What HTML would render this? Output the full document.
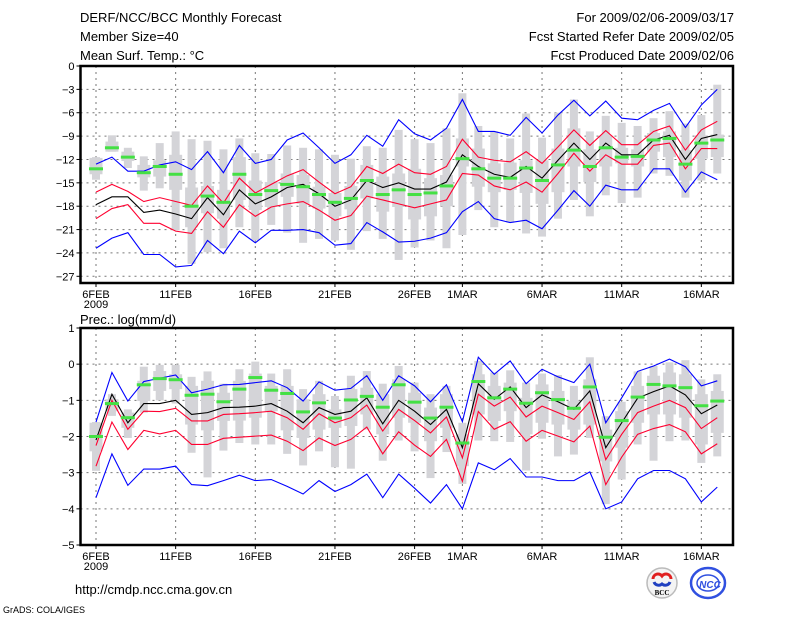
<!DOCTYPE html>
<html><head><meta charset="utf-8"><style>
html,body{margin:0;padding:0;background:#fff;}
svg{display:block;font-family:"Liberation Sans",sans-serif;}
</style></head><body>
<svg id="chart" width="800" height="618" viewBox="0 0 800 618">
<rect x="0" y="0" width="800" height="618" fill="#fff"/>
<text x="80" y="22" font-size="13">DERF/NCC/BCC Monthly Forecast</text>
<text x="80" y="41" font-size="13">Member Size=40</text>
<text x="80" y="60" font-size="13">Mean Surf. Temp.: °C</text>
<text x="734" y="22" font-size="13" text-anchor="end">For 2009/02/06-2009/03/17</text>
<text x="734" y="41" font-size="13" text-anchor="end">Fcst Started Refer Date 2009/02/05</text>
<text x="734" y="60" font-size="13" text-anchor="end">Fcst Produced Date 2009/02/06</text>
<text x="80" y="324" font-size="13">Prec.: log(mm/d)</text>
<text x="75" y="594" font-size="13">http://cmdp.ncc.cma.gov.cn</text>
<text x="3" y="613" font-size="9">GrADS: COLA/IGES</text>
<g>
<circle cx="662" cy="583" r="15" fill="#f4f4f4" stroke="#bbb" stroke-width="1.5"/>
<path d="M653 579 a5 5 0 0 1 9 -3 a5 5 0 0 1 9 3" fill="none" stroke="#e02020" stroke-width="3"/>
<path d="M654 582 a5 5 0 0 0 8 2 a5 5 0 0 0 8 -2" fill="none" stroke="#2040c0" stroke-width="3"/>
<text x="662" y="595" font-size="7" font-weight="bold" text-anchor="middle" font-family="Liberation Serif,serif">BCC</text>
</g>
<g>
<ellipse cx="708" cy="583" rx="17" ry="15" fill="none" stroke="#3050e0" stroke-width="2.5"/>
<ellipse cx="708" cy="583" rx="11" ry="8" fill="none" stroke="#3050e0" stroke-width="1.5"/>
<text x="710" y="588" font-size="10" font-style="italic" font-weight="bold" fill="#3050e0" text-anchor="middle">NCC</text>
</g>
<g id="p1"></g><g id="p2"></g>
</svg>
<script>
// ===== Top panel: temperature =====
const tBlueHi=[-12.6,-11.7,-13.5,-13.5,-12.7,-12.3,-13.3,-11.0,-13.7,-10.2,-12.5,-12.0,-9.5,-8.6,-10.5,-12.5,-11.4,-8.9,-10.3,-6.9,-8.7,-9.5,-8.0,-4.3,-8.4,-8.4,-8.9,-6.6,-8.6,-6.3,-4.4,-6.4,-4.5,-6.7,-6.9,-5.7,-4.8,-7.9,-5.0,-3.0];
const tRedHi=[-16.2,-15.2,-16.1,-17.4,-16.9,-17.4,-17.9,-15.4,-17.6,-14.4,-16.3,-15.2,-14.1,-13.3,-14.9,-16.4,-15.5,-12.9,-13.8,-12.6,-13.7,-13.9,-12.9,-9.4,-11.7,-12.1,-12.3,-11.0,-12.5,-10.4,-8.2,-10.2,-8.3,-10.1,-10.1,-8.4,-7.7,-10.8,-8.2,-7.1];
const tMean=[-17.8,-16.8,-16.8,-18.8,-18.5,-19.0,-19.6,-16.9,-19.1,-15.9,-17.7,-16.8,-15.6,-15.2,-16.4,-18.0,-17.2,-14.7,-15.6,-15.0,-15.8,-15.8,-14.9,-11.4,-12.9,-13.9,-14.3,-12.9,-14.4,-12.1,-9.9,-12.0,-9.9,-11.4,-11.4,-9.5,-8.9,-12.0,-9.3,-8.8];
const tRedLo=[-19.6,-18.3,-17.8,-20.2,-20.2,-21.2,-21.5,-18.7,-20.7,-17.8,-19.3,-18.1,-17.7,-17.4,-18.5,-19.8,-19.2,-16.7,-17.2,-17.7,-18.2,-17.7,-17.2,-13.8,-14.0,-15.4,-15.9,-14.9,-16.2,-13.8,-11.2,-13.5,-11.4,-12.6,-12.6,-10.2,-9.9,-13.2,-10.6,-10.6];
const tBlueLo=[-23.4,-22.1,-21.4,-24.2,-24.2,-25.8,-25.6,-22.4,-24.1,-21.2,-22.7,-21.1,-21.1,-21.0,-21.4,-23.0,-22.8,-20.1,-21.3,-22.6,-22.5,-22.1,-21.4,-18.7,-17.4,-19.6,-20.1,-19.8,-20.9,-18.5,-16.0,-18.0,-15.3,-15.9,-15.9,-13.2,-13.2,-16.2,-13.6,-14.6];
const tObs=[-13.2,-10.5,-11.7,-13.7,-12.9,-13.9,-18.0,-16.7,-17.5,-13.9,-16.5,-16.0,-15.2,-15.5,-16.5,-17.5,-17.0,-14.7,-16.5,-15.9,-16.5,-16.3,-15.4,-11.9,-13.2,-14.4,-14.4,-13.1,-14.7,-12.7,-10.8,-12.9,-10.5,-11.7,-11.6,-9.5,-9.3,-12.6,-9.9,-9.5];
const tMax=[-11.7,-8.9,-10.5,-11.6,-9.9,-8.4,-9.4,-9.6,-10.7,-9.3,-11.2,-11.3,-10.2,-10.5,-10.7,-11.4,-11.9,-10.3,-10.5,-8.2,-9.4,-9.9,-8.0,-3.5,-7.7,-8.4,-9.3,-6.1,-9.2,-6.0,-4.3,-8.4,-6.4,-7.3,-7.7,-6.7,-5.8,-7.4,-6.3,-2.4];
const tMin=[-14.6,-11.0,-13.1,-16.0,-15.7,-21.1,-25.4,-23.9,-23.4,-20.7,-22.4,-20.4,-21.4,-22.7,-22.2,-22.4,-23.6,-21.2,-22.2,-24.9,-23.3,-22.4,-23.4,-21.7,-18.5,-20.7,-20.1,-21.5,-21.9,-19.6,-17.2,-19.3,-16.6,-17.6,-16.9,-13.8,-14.1,-16.9,-14.7,-13.8];
const tQ3=[-11.8,-9.7,-11.0,-12.7,-12.1,-11.4,-15.6,-15.4,-15.9,-11.7,-14.7,-14.9,-13.8,-14.0,-15.5,-16.3,-15.4,-12.7,-14.2,-13.8,-13.2,-14.4,-14.0,-9.3,-10.6,-12.5,-12.4,-12.1,-12.1,-10.6,-8.0,-10.7,-8.9,-10.5,-10.7,-8.6,-8.4,-10.8,-8.9,-8.8];
const tQ1=[-13.9,-11.0,-12.2,-14.3,-14.2,-15.9,-20.7,-18.9,-19.6,-17.2,-18.5,-18.1,-16.8,-17.7,-18.3,-19.3,-18.4,-17.0,-18.7,-18.1,-19.7,-19.3,-18.0,-12.9,-15.5,-16.2,-15.9,-16.3,-17.7,-16.2,-12.9,-14.9,-12.9,-12.5,-12.9,-11.0,-11.7,-14.7,-11.9,-11.7];
const tTicks=[0,-3,-6,-9,-12,-15,-18,-21,-24,-27];
// ===== Bottom panel: precipitation =====
const pBlueHi=[-1.6,-0.23,-1.02,-0.48,-0.39,-0.3,-0.79,-0.69,-0.57,-0.56,-0.51,-0.46,-0.65,-1.02,-0.49,-0.72,-0.67,-0.32,-1.0,-0.32,-0.6,-1.04,-0.57,-1.59,0.19,-0.28,0.09,-0.54,-0.14,-0.35,-0.51,0.0,-1.62,-0.93,-0.2,-0.05,0.14,-0.07,-0.6,-0.46];
const pRedHi=[-2.25,-1.0,-1.8,-1.3,-1.31,-1.22,-1.57,-1.57,-1.39,-1.37,-1.34,-1.3,-1.48,-1.8,-1.37,-1.62,-1.48,-1.13,-1.85,-1.25,-1.56,-1.9,-1.46,-2.59,-0.83,-1.16,-0.91,-1.46,-1.16,-1.34,-1.53,-1.04,-2.64,-1.94,-1.34,-1.16,-1.0,-1.2,-1.78,-1.48];
const pMean=[-2.1,-0.83,-1.62,-1.09,-1.09,-1.0,-1.39,-1.34,-1.2,-1.19,-1.16,-1.09,-1.3,-1.62,-1.2,-1.39,-1.3,-0.93,-1.65,-1.0,-1.3,-1.67,-1.25,-2.31,-0.54,-0.97,-0.63,-1.2,-0.85,-1.04,-1.25,-0.74,-2.31,-1.62,-0.94,-0.76,-0.6,-0.85,-1.37,-1.13];
const pRedLo=[-2.82,-1.6,-2.36,-1.83,-1.93,-1.83,-2.22,-2.22,-2.05,-2.02,-1.99,-1.96,-2.13,-2.39,-2.04,-2.25,-2.08,-1.74,-2.48,-1.87,-2.24,-2.55,-2.08,-3.24,-1.31,-1.8,-1.59,-2.13,-1.83,-1.99,-2.15,-1.71,-3.33,-2.57,-1.94,-1.78,-1.67,-1.87,-2.48,-2.2];
const pBlueLo=[-3.69,-2.48,-3.35,-2.9,-2.9,-2.82,-3.33,-3.36,-3.22,-3.07,-3.22,-3.19,-3.38,-3.59,-3.22,-3.52,-3.33,-3.04,-3.69,-3.04,-3.43,-3.84,-3.33,-4.0,-2.73,-2.92,-2.61,-3.12,-3.12,-3.22,-3.22,-2.98,-4.0,-3.81,-3.17,-2.94,-2.94,-3.17,-3.81,-3.4];
const pObs=[-2.0,-1.09,-1.48,-0.57,-0.4,-0.43,-0.86,-0.83,-1.04,-0.69,-0.37,-0.72,-0.81,-1.32,-1.07,-1.49,-0.99,-0.89,-1.19,-0.57,-1.05,-1.49,-1.19,-2.18,-0.48,-0.93,-0.69,-1.08,-0.79,-0.98,-1.22,-0.63,-2.02,-1.56,-0.91,-0.56,-0.6,-0.65,-1.15,-1.02];
const pMax=[-1.6,-0.83,-1.25,-0.07,-0.02,-0.02,-0.35,-0.2,-0.54,-0.14,0.07,-0.26,-0.14,-0.69,-0.46,-0.88,-0.32,-0.19,-0.54,-0.05,-0.51,-0.83,-0.6,-1.62,0.09,-0.23,-0.17,-0.51,-0.26,-0.3,-0.6,0.19,-1.44,-1.04,-0.2,-0.05,0.05,0.11,-0.42,-0.28];
const pMin=[-2.95,-1.43,-2.04,-1.34,-1.0,-1.09,-2.45,-3.13,-2.39,-2.18,-2.22,-2.22,-2.48,-2.8,-2.41,-2.85,-2.89,-1.81,-2.67,-2.11,-2.41,-3.15,-2.43,-3.31,-2.11,-2.13,-2.15,-2.94,-2.06,-2.55,-2.5,-2.04,-3.87,-3.19,-2.22,-2.67,-2.13,-2.11,-2.73,-2.55];
const pQ3=[-1.62,-0.97,-1.34,-0.46,-0.19,-0.28,-0.6,-0.46,-0.79,-0.46,-0.26,-0.6,-0.6,-0.97,-0.83,-1.25,-0.69,-0.65,-0.83,-0.42,-0.79,-1.2,-0.83,-1.94,-0.28,-0.6,-0.51,-0.93,-0.56,-0.74,-1.02,-0.42,-1.81,-1.3,-0.6,-0.32,-0.23,-0.28,-0.83,-0.74];
const pQ1=[-2.41,-1.3,-1.76,-1.02,-0.74,-0.69,-1.67,-1.83,-1.57,-1.56,-1.48,-1.3,-1.83,-2.04,-1.81,-1.76,-1.71,-1.39,-1.94,-1.48,-1.62,-2.13,-1.76,-2.82,-1.39,-1.57,-1.3,-1.94,-1.62,-1.67,-1.81,-1.67,-2.69,-2.31,-1.62,-1.39,-1.39,-1.48,-2.22,-1.9];
const pTicks=[1,0,-1,-2,-3,-4,-5];
const dateLabels=["6FEB","11FEB","16FEB","21FEB","26FEB","1MAR","6MAR","11MAR","16MAR"];
const dateIdx=[0,5,10,15,20,23,28,33,38];

const NS="http://www.w3.org/2000/svg";
const X0=80.5, X1=733, D0=96, DX=15.93;
function xs(i){return D0+i*DX;}
function mk(parent,tag,attrs){const e=document.createElementNS(NS,tag);for(const k in attrs)e.setAttribute(k,attrs[k]);parent.appendChild(e);return e;}

function panel(g,cfg){
  const ys=v=>cfg.yTop+(cfg.vTop-v)*(cfg.yBot-cfg.yTop)/(cfg.vTop-cfg.vBot);
  // grid
  cfg.ticks.forEach(t=>{
    const y=ys(t);
    if(t!==cfg.vTop){const l=mk(g,'line',{x1:X0,x2:X1,y1:y,y2:y,stroke:'#777','stroke-dasharray':'2,4','stroke-width':1});
    
    }
    const tk=mk(g,'line',{x1:X0-4,x2:X0,y1:y,y2:y,stroke:'#000'});
    
    
    const tx=mk(g,'text',{x:X0-6,y:y+4,'font-size':11,'text-anchor':'end'});
    tx.textContent=(t<0?'\u2212'+(-t):String(t));
    
    
  });
  dateIdx.forEach((di,k)=>{
    const x=xs(di);
    const l=mk(g,'line',{x1:x,x2:x,y1:cfg.yTop,y2:cfg.yBot,stroke:'#777','stroke-dasharray':'2,4'});
    
    
    const tk=mk(g,'line',{x1:x,x2:x,y1:cfg.yBot,y2:cfg.yBot+4,stroke:'#000'});
    
    
    const tx=mk(g,'text',{x:x,y:cfg.yBot+15,'font-size':11,'text-anchor':'middle'});
    tx.textContent=dateLabels[k];
    
    
  });
  const yr=mk(g,'text',{x:xs(0),y:cfg.yBot+25,'font-size':11,'text-anchor':'middle'});
  yr.textContent='2009';
  
  
  // boxes
  for(let i=0;i<cfg.mean.length;i++){
    const x=xs(i);
    const r1=mk(g,'rect',{x:x-4,y:ys(cfg.max[i]),width:8,height:ys(cfg.min[i])-ys(cfg.max[i]),fill:'#d4d4d8'});
    
    
    const r2=mk(g,'rect',{x:x-6.5,y:ys(cfg.q3[i]),width:13,height:ys(cfg.q1[i])-ys(cfg.q3[i]),fill:'#d4d4d8'});
    
    
  }
  const series=[[cfg.blueHi,'#0000ff','upper-bound-line'],[cfg.blueLo,'#0000ff','lower-bound-line'],[cfg.redHi,'#ff0030','upper-spread-line'],[cfg.redLo,'#ff0030','lower-spread-line'],[cfg.mean,'#000','ensemble-mean-line']];
  series.forEach(s=>{
    const p=mk(g,'polyline',{points:s[0].map((v,i)=>xs(i)+','+ys(v)).join(' '),fill:'none',stroke:s[1],'stroke-width':1.1});
    
    
  });
  for(let i=0;i<cfg.obs.length;i++){
    const r=mk(g,'rect',{x:xs(i)-7,y:ys(cfg.obs[i])-1.5,width:14,height:3,fill:'#44e044'});
    
    
  }
  const f=mk(g,'path',{d:`M${X0} ${cfg.yBot} V${cfg.yTop} H${X1} V${cfg.yBot} Z`,fill:'none',stroke:'#000','stroke-width':2.5});
  
  
}
panel(document.getElementById('p1'),{yTop:66,yBot:283,vTop:0,vBot:-27.86,ticks:tTicks,blueHi:tBlueHi,redHi:tRedHi,mean:tMean,redLo:tRedLo,blueLo:tBlueLo,obs:tObs,max:tMax,min:tMin,q3:tQ3,q1:tQ1});
panel(document.getElementById('p2'),{yTop:328,yBot:545,vTop:1,vBot:-5,ticks:pTicks,blueHi:pBlueHi,redHi:pRedHi,mean:pMean,redLo:pRedLo,blueLo:pBlueLo,obs:pObs,max:pMax,min:pMin,q3:pQ3,q1:pQ1});
</script>
</body></html>
